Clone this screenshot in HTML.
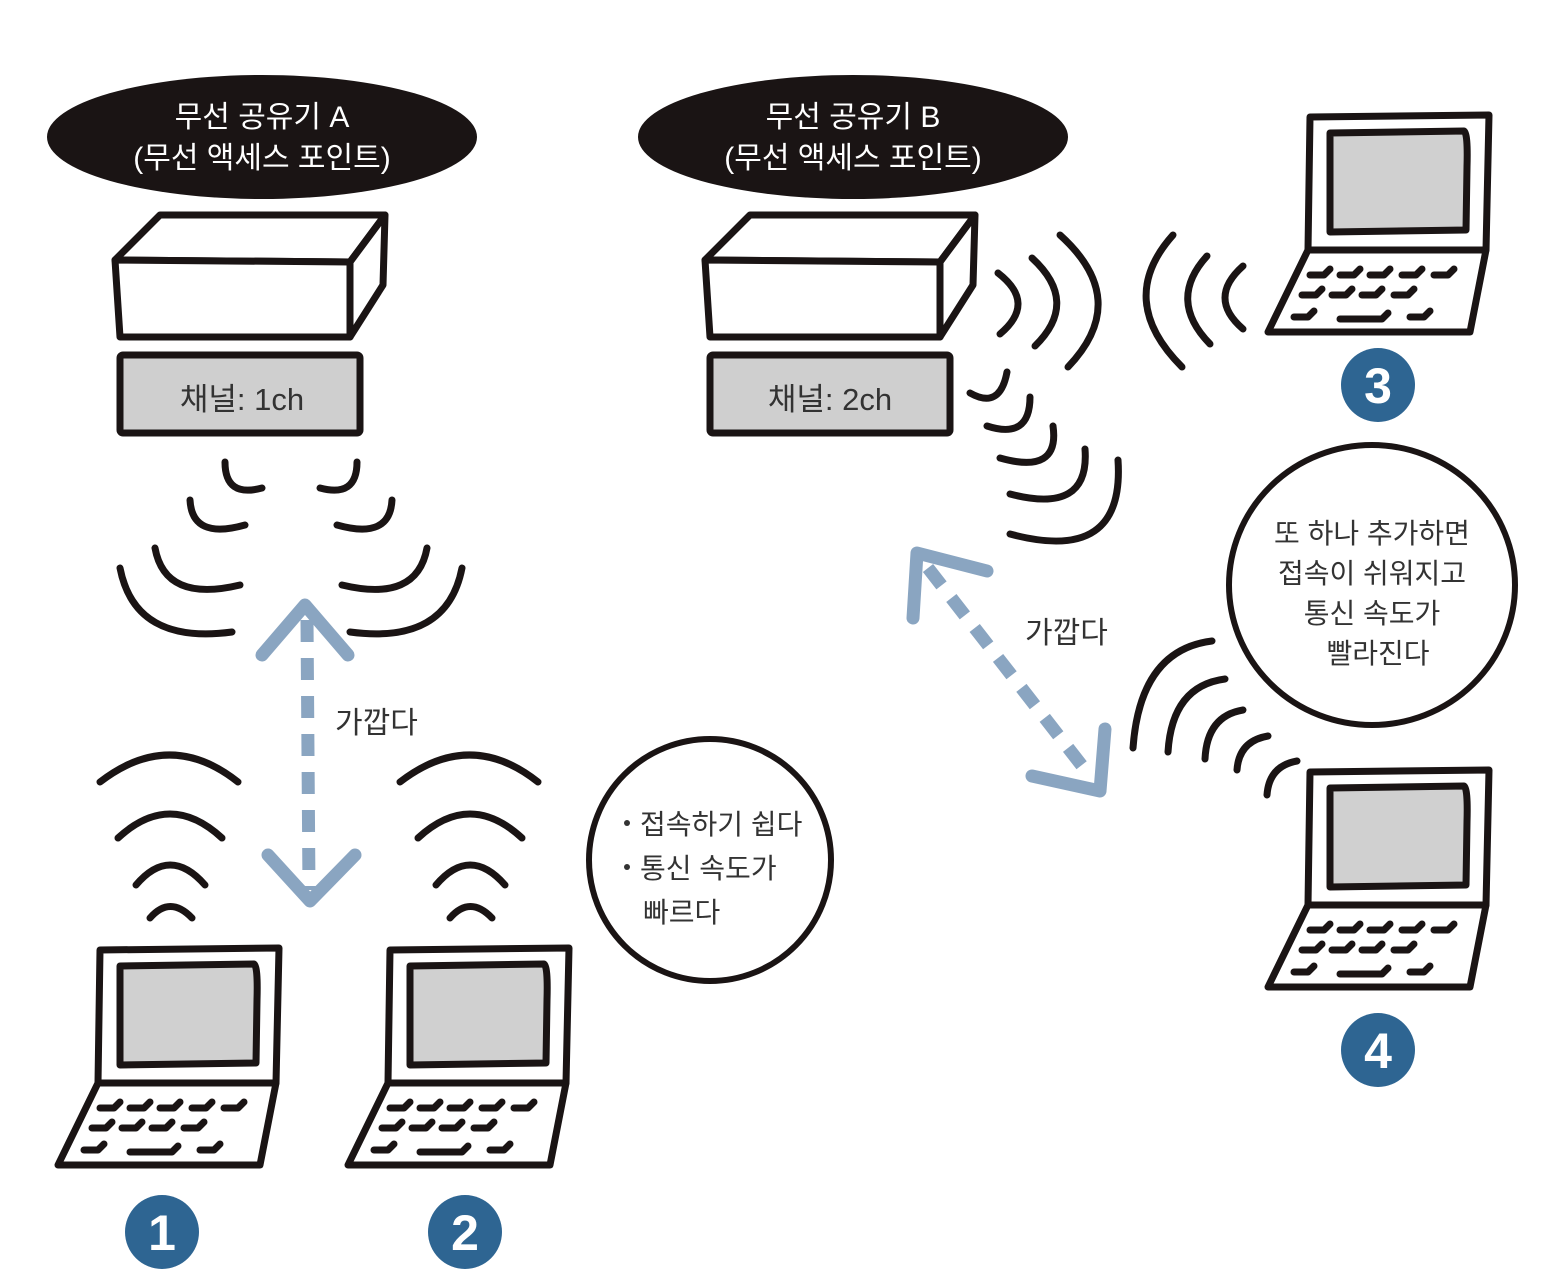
<!DOCTYPE html>
<html><head><meta charset="utf-8"><style>
html,body{margin:0;padding:0;background:#fff;}
svg{display:block}
text{font-family:"Liberation Sans","Noto Sans CJK KR",sans-serif;}
</style></head><body>
<svg width="1564" height="1278" viewBox="0 0 1564 1278" xmlns="http://www.w3.org/2000/svg">
<defs>
<g id="lap" fill="none" stroke="#1a1414" stroke-width="7" stroke-linejoin="round" stroke-linecap="round">
  <path d="M100,950 L279,948 L276,1083 L98,1083 Z" fill="#fff"/>
  <path d="M120,966 L254,964 Q258,966 257,1000 L256,1063 L120,1065 Z" fill="#d0d0d0"/>
  <path d="M98,1083 L276,1083 L260,1165 L58,1165 Z" fill="#fff"/>
  <g stroke-width="7">
    <path d="M100,1108 h14 l6,-6 M130,1108 h14 l6,-6 M160,1108 h14 l6,-6 M192,1108 h14 l6,-6 M224,1108 h14 l6,-6"/>
    <path d="M92,1128 h14 l6,-6 M122,1128 h14 l6,-6 M152,1128 h14 l6,-6 M184,1128 h14 l6,-6"/>
    <path d="M84,1150 h14 l6,-6 M130,1152 h42 l6,-6 M200,1150 h14 l6,-6"/>
  </g>
</g>
<g id="box" fill="#fff" stroke="#1a1414" stroke-width="7" stroke-linejoin="round">
  <path d="M115,260 L160,215 L385,215 L350,262 Z"/>
  <path d="M115,260 L350,262 L350,337 L120,337 Z"/>
  <path d="M350,262 L385,215 L383,285 L350,337 Z"/>
  <rect x="120" y="355" width="240" height="78" fill="#cfcfcf" rx="3"/>
</g>
</defs>

<ellipse cx="262" cy="137" rx="215" ry="62" fill="#1a1414"/>
<text x="262" y="127" fill="#fff" font-size="30" text-anchor="middle">무선 공유기 A</text>
<text x="262" y="168" fill="#fff" font-size="30" text-anchor="middle">(무선 액세스 포인트)</text>
<ellipse cx="853" cy="137" rx="215" ry="62" fill="#1a1414"/>
<text x="853" y="127" fill="#fff" font-size="30" text-anchor="middle">무선 공유기 B</text>
<text x="853" y="168" fill="#fff" font-size="30" text-anchor="middle">(무선 액세스 포인트)</text>

<use href="#box"/>
<text x="242" y="410" font-size="31" fill="#333" text-anchor="middle">채널: 1ch</text>
<use href="#box" transform="translate(590,0)"/>
<text x="830" y="410" font-size="31" fill="#333" text-anchor="middle">채널: 2ch</text>

<g fill="none" stroke="#1a1414" stroke-width="7" stroke-linecap="round">
  <path d="M225,462 Q225,498 262,488"/>
  <path d="M190,500 Q192,540 245,525"/>
  <path d="M155,548 Q165,603 240,585"/>
  <path d="M120,568 Q135,645 232,632"/>
  <path d="M357,462 Q357,498 320,488"/>
  <path d="M392,500 Q390,540 337,525"/>
  <path d="M427,548 Q417,603 342,585"/>
  <path d="M462,568 Q447,645 350,632"/>
  <path d="M150,918 Q170,895 192,918"/>
  <path d="M136,885 Q170,845 205,885"/>
  <path d="M118,838 Q170,790 222,838"/>
  <path d="M100,782 Q170,728 238,782"/>
  <path d="M450,918 Q470,895 492,918"/>
  <path d="M436,885 Q470,845 505,885"/>
  <path d="M418,838 Q470,790 522,838"/>
  <path d="M400,782 Q470,728 538,782"/>
  <path d="M998,273 Q1037,303 1000,334"/>
  <path d="M1032,258 Q1080,302 1035,346"/>
  <path d="M1060,235 Q1132,300 1068,367"/>
  <path d="M970,393 Q1000,410 1007,372"/>
  <path d="M987,426 Q1030,440 1030,397"/>
  <path d="M1000,458 Q1060,475 1053,426"/>
  <path d="M1010,494 Q1090,515 1085,449"/>
  <path d="M1010,534 Q1125,565 1118,460"/>
  <path d="M1243,266 Q1207,298 1243,329"/>
  <path d="M1207,256 Q1167,300 1210,344"/>
  <path d="M1173,235 Q1115,300 1182,367"/>
  <path d="M1212,641 Q1140,650 1133,748"/>
  <path d="M1225,679 Q1172,686 1168,752"/>
  <path d="M1243,710 Q1207,716 1205,759"/>
  <path d="M1268,736 Q1239,741 1237,770"/>
  <path d="M1297,761 Q1269,766 1267,795"/>
</g>

<g fill="none" stroke="#8aa5c1" stroke-width="13" stroke-linecap="round" stroke-linejoin="round">
  <path d="M262,655 L305,605 L348,655"/>
  <path d="M268,855 L310,901 L355,855"/>
  <path d="M987,571 L917,553 L913,618"/>
  <path d="M1032,776 L1100,791 L1105,729"/>
</g>
<g fill="none" stroke="#8aa5c1" stroke-width="13">
  <path d="M307,620 L309,890" stroke-dasharray="22,16"/>
  <path d="M928,568 L1090,776" stroke-dasharray="22,16"/>
</g>
<text x="335" y="733" font-size="30" fill="#333">가깝다</text>
<text x="1025" y="643" font-size="30" fill="#333">가깝다</text>

<use href="#lap"/>
<use href="#lap" transform="translate(290,0)"/>
<use href="#lap" transform="translate(1210,-833)"/>
<use href="#lap" transform="translate(1210,-178)"/>

<g font-size="50" font-weight="bold" fill="#fff" text-anchor="middle">
  <circle cx="162" cy="1232" r="37" fill="#2e6592"/><text x="162" y="1250">1</text>
  <circle cx="465" cy="1232" r="37" fill="#2e6592"/><text x="465" y="1250">2</text>
  <circle cx="1378" cy="385" r="37" fill="#2e6592"/><text x="1378" y="403">3</text>
  <circle cx="1378" cy="1050" r="37" fill="#2e6592"/><text x="1378" y="1068">4</text>
</g>

<circle cx="710" cy="860" r="121" fill="#fff" stroke="#1a1414" stroke-width="6"/>
<g font-size="28" fill="#333">
  <circle cx="627" cy="823" r="3" fill="#333"/>
  <circle cx="627" cy="867" r="3" fill="#333"/>
  <text x="640" y="834">접속하기 쉽다</text>
  <text x="640" y="878">통신 속도가</text>
  <text x="643" y="922">빠르다</text>
</g>
<ellipse cx="1372" cy="585" rx="143" ry="140" fill="#fff" stroke="#1a1414" stroke-width="6"/>
<g font-size="28" fill="#333" text-anchor="middle">
  <text x="1372" y="543">또 하나 추가하면</text>
  <text x="1372" y="583">접속이 쉬워지고</text>
  <text x="1372" y="623">통신 속도가</text>
  <text x="1378" y="663">빨라진다</text>
</g>
</svg>
</body></html>
